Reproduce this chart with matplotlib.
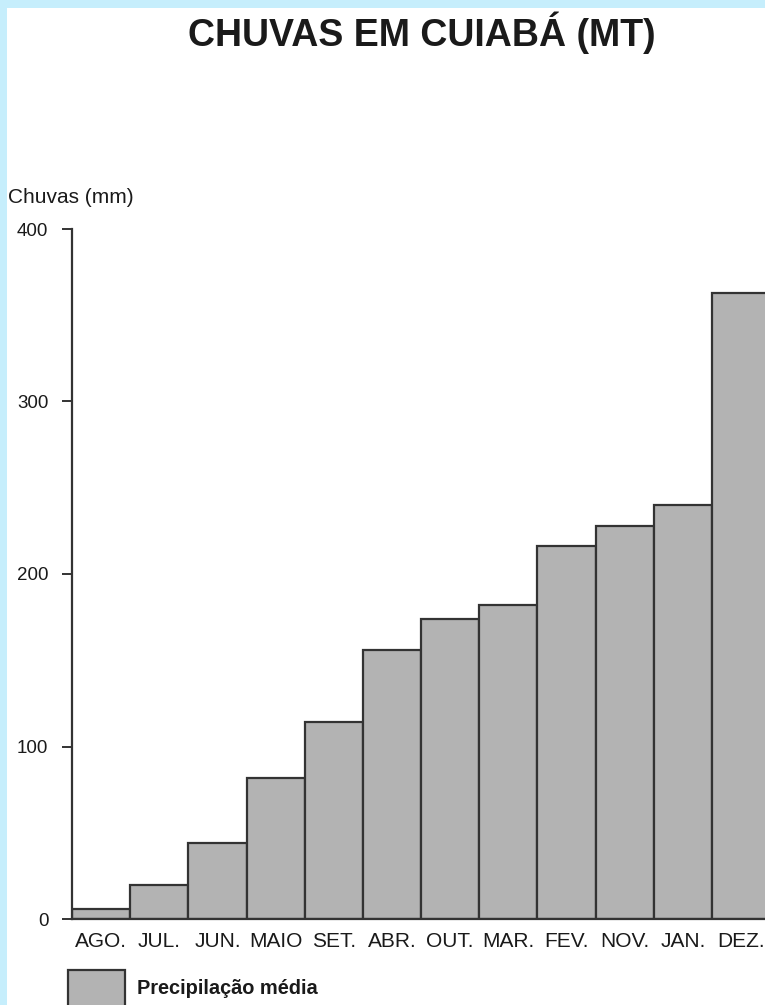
import matplotlib
matplotlib.use("Agg")
import matplotlib.pyplot as plt
from matplotlib.patches import Rectangle

# data
meses = ["AGO.", "JUL.", "JUN.", "MAIO", "SET.", "ABR.", "OUT.", "MAR.",
         "FEV.", "NOV.", "JAN.", "DEZ."]
chuvas = [6, 20, 44, 82, 114, 156, 174, 182, 216, 228, 240, 363]
yticks = [0, 100, 200, 300, 400]

BORDER = "#c6eefc"
BAR = "#b3b3b3"
EDGE = "#333333"
TXT = "#1a1a1a"

plt.rcParams["font.family"] = ["Liberation Sans", "DejaVu Sans"]

W, H = 765, 1005
fig = plt.figure(figsize=(W / 100, H / 100), dpi=100, facecolor=BORDER)

# white panel inside the light blue frame
fig.add_artist(Rectangle((7 / W, 0), 1, 1 - 8 / H, transform=fig.transFigure,
                         facecolor="white", edgecolor="none", zorder=0))

ax = fig.add_axes([72 / W, 1 - 919 / H, (W - 72) / W, (919 - 229) / H])
ax.set_facecolor("white")
ax.set_zorder(1)

x = list(range(len(meses)))
ax.bar(x, chuvas, width=1.0, color=BAR, edgecolor=EDGE, linewidth=1.6)

ax.set_xlim(-0.5, 11.41)
ax.set_ylim(0, 400)
ax.set_yticks(yticks)
ax.set_yticklabels([str(v) for v in yticks], fontsize=13.5, color=TXT)
ax.set_xticks(x)
ax.set_xticklabels(meses, fontsize=15, color=TXT)
ax.tick_params(axis="x", length=0, pad=9)
ax.tick_params(axis="y", length=7, width=1.4, color=EDGE, pad=10)
ax.spines["top"].set_visible(False)
ax.spines["right"].set_visible(False)
ax.spines["left"].set_color(EDGE)
ax.spines["left"].set_linewidth(1.6)
ax.spines["bottom"].set_color(EDGE)
ax.spines["bottom"].set_linewidth(1.6)

fig.text(8 / W, 1 - 197 / H, "Chuvas (mm)", fontsize=15, color=TXT,
         ha="left", va="center")

fig.text(422 / W, 1 - 33 / H, "CHUVAS EM CUIABÁ (MT)", fontsize=27,
         fontweight="bold", color=TXT, ha="center", va="center")

# legend
fig.add_artist(Rectangle((68 / W, 1 - 1010 / H), 57 / W, 40 / H,
                         transform=fig.transFigure, facecolor=BAR,
                         edgecolor=EDGE, linewidth=1.6, zorder=2))
fig.text(137 / W, 1 - 988 / H, "Precipilação média", fontsize=14.4,
         fontweight="bold", color=TXT, ha="left", va="center")

fig.savefig("out.png", dpi=100, facecolor=BORDER)
